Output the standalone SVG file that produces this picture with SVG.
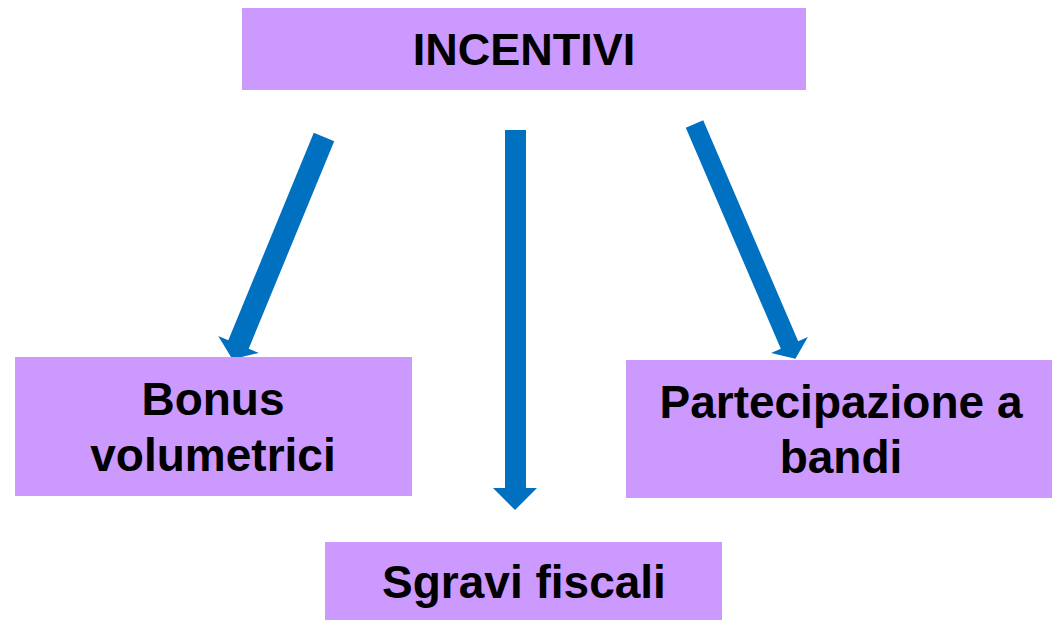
<svg xmlns="http://www.w3.org/2000/svg" width="1053" height="620" viewBox="0 0 1053 620">
<style>
.box{fill:#CC99FF;}
.t{font-family:"Liberation Sans",Arial,sans-serif;font-weight:bold;font-size:46px;fill:#000;text-anchor:middle;}
.arr{fill:#0070C0;}
</style>
<rect width="1053" height="620" fill="#fff"/>
<g id="connectors">
<polygon class="arr" points="313.8,132.8 334.2,141.2 248.7,348.7 258.9,352.9 232.4,359.3 218.2,336.1 228.3,340.3"/>
<polygon class="arr" points="505,130 526,130 526,488 537,488 515,510 493,488 505,488"/>
<polygon class="arr" points="685.8,127.8 703.2,120.3 798.2,341.3 807.9,337.1 795.4,358.8 771.1,352.9 780.8,348.8"/>
</g>
<g id="incentivi">
<rect class="box" x="242" y="8" width="564" height="82"/>
<text class="t" x="524" y="65" style="font-size:45px">INCENTIVI</text>
</g>
<g id="bonus">
<rect class="box" x="15" y="357" width="397" height="139"/>
<text class="t" x="213" y="415">Bonus</text>
<text class="t" x="213" y="471">volumetrici</text>
</g>
<g id="partecipazione">
<rect class="box" x="626" y="360" width="426" height="138"/>
<text class="t" x="841" y="418">Partecipazione a</text>
<text class="t" x="841" y="473">bandi</text>
</g>
<g id="sgravi">
<rect class="box" x="325" y="542" width="397" height="78"/>
<text class="t" x="524" y="598">Sgravi fiscali</text>
</g>
</svg>
